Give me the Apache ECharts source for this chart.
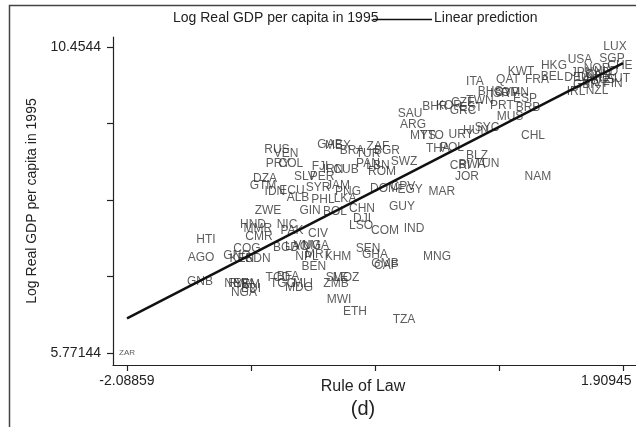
<!DOCTYPE html>
<html>
<head>
<meta charset="utf-8">
<script src="https://cdn.jsdelivr.net/npm/echarts@6/dist/echarts.min.js"></script>
<style>html,body{margin:0;padding:0;background:#fff}#c{width:636px;height:427px}</style>
</head>
<body>
<div id="c"></div>
<script>
// ---- data ----
const countries = ["LUX","USA","SGP","CHE","HKG","KWT","QAT","FRA","BEL","ITA","JPN","NOR","DEU","NZL","IRL","FIN","AUT","GBR","CAN","NLD","DNK","AUS","SWE",
 "BHS","ISR","CYP","OMN","ESP","PRT","BRB","MUS","CHL","SYC","HUN","URY","BHR","KOR","CZE","TWN","GRC","EST","SAU","ARG","MYS","TTO","THA","POL","BLZ","CRI","BWA","TUN","JOR","NAM",
 "ZAF","BGR","TUR","BRA","SWZ","PAN","LBN","ROM","DOM","CPV","EGY","MAR","CHN","GUY","DJI","LSO","COM","IND","SEN","GHA","GMB","CAF","MNG","MOZ","SLE","ZMB","MWI","ETH","TZA",
 "RUS","VEN","PRY","COL","GAB","MEX","FJI","IRN","CUB","SLV","PER","SYR","JAM","PNG","LKA","PHL","GIN","BOL","DZA","GTM","IDN","ECU","ALB","ZWE","HND","MMR","CMR","NIC","PAK","CIV",
 "HTI","AGO","COG","GNQ","KEN","SDN","BGD","LAO","VNM","UGA","NPL","MRT","KHM","BEN","TCD","BFA","TGO","MLI","MDG","GNB","NER","RWA","YEM","BDI","NGA","ZAR"];
const ruleOfLaw = [1.845,1.563,1.821,1.885,1.353,1.087,0.982,1.216,1.337,0.716,1.579,1.700,1.539,1.700,1.531,1.829,1.869,1.611,1.708,1.773,1.644,1.748,1.692,
 0.838,0.918,0.975,1.039,1.120,0.934,1.144,0.999,1.184,0.813,0.725,0.604,0.394,0.507,0.620,0.757,0.620,0.684,0.193,0.217,0.297,0.370,0.418,0.531,0.733,0.596,0.692,0.813,0.652,1.224,
 -0.066,0.007,-0.146,-0.275,0.144,-0.146,-0.066,-0.033,-0.017,0.136,0.193,0.450,-0.194,0.128,-0.194,-0.202,-0.009,0.225,-0.146,-0.090,-0.009,0.000,0.410,-0.323,-0.396,-0.404,-0.380,-0.251,0.144,
 -0.880,-0.807,-0.872,-0.767,-0.452,-0.388,-0.533,-0.428,-0.323,-0.654,-0.517,-0.549,-0.388,-0.307,-0.331,-0.509,-0.613,-0.412,-0.976,-0.992,-0.896,-0.759,-0.710,-0.952,-1.073,-1.033,-1.025,-0.799,-0.759,-0.549,
 -1.452,-1.492,-1.122,-1.202,-1.162,-1.033,-0.807,-0.718,-0.638,-0.565,-0.638,-0.549,-0.388,-0.582,-0.872,-0.791,-0.831,-0.670,-0.702,-1.500,-1.202,-1.162,-1.122,-1.089,-1.146,-2.08859];
const logGdp = [10.4544,10.255,10.271,10.164,10.164,10.072,9.949,9.949,9.995,9.919,10.056,10.118,9.980,9.781,9.766,9.888,9.965,9.873,10.026,10.072,9.980,9.949,9.919,
 9.766,9.735,9.750,9.750,9.659,9.551,9.521,9.383,9.092,9.215,9.169,9.108,9.536,9.551,9.597,9.628,9.475,9.521,9.429,9.261,9.092,9.092,8.893,8.909,8.786,8.633,8.648,8.664,8.465,8.465,
 8.924,8.863,8.817,8.863,8.694,8.664,8.633,8.541,8.281,8.312,8.266,8.235,7.975,8.006,7.822,7.715,7.639,7.669,7.363,7.271,7.133,7.103,7.240,6.919,6.919,6.828,6.583,6.400,6.277,
 8.878,8.817,8.664,8.664,8.955,8.939,8.618,8.572,8.572,8.465,8.465,8.296,8.327,8.235,8.128,8.113,7.945,7.929,8.434,8.327,8.235,8.251,8.143,7.945,7.730,7.669,7.547,7.730,7.639,7.593,
 7.501,7.225,7.363,7.256,7.210,7.210,7.379,7.394,7.409,7.409,7.240,7.271,7.240,7.088,6.919,6.935,6.828,6.828,6.767,6.858,6.828,6.828,6.813,6.751,6.690,5.77144];
// linear prediction endpoints
const fitX = [-2.08859, 1.90945];
const fitY = [6.30, 10.209];
// axis ticks / labels
const xTicks = [-2.08859, -1.08908, -0.08957, 0.90994, 1.90945];
const xTickLabels = ["-2.08859", "1.90945"];
const yTicks = [5.77144, 6.94218, 8.11292, 9.28366, 10.4544];
const yTickLabels = ["5.77144", "10.4544"];
const xTitle = "Rule of Law";
const yTitle = "Log Real GDP per capita in 1995";
const legendNames = ["Log Real GDP per capita in 1995", "Linear prediction"];
const panelTag = "(d)";

const FONT = "'Liberation Sans', Arial, sans-serif";
const chart = echarts.init(document.getElementById('c'), null, {renderer: 'canvas'});

const points = countries.map((c, i) => {
  const p = {name: c, value: [ruleOfLaw[i], logGdp[i]]};
  if (c === 'ZAR') p.label = {fontSize: 8};
  return p;
});
const fitData = fitX.map((x, i) => [x, fitY[i]]);

chart.setOption({
  animation: false,
  backgroundColor: '#fff',
  grid: {left: 113, right: 0, top: 37, bottom: 62},
  xAxis: {
    type: 'value', min: -2.2014, max: 2.0143,
    axisLine: {show: true, onZero: false, lineStyle: {color: '#222', width: 1.2}},
    axisTick: {show: true, inside: false, length: 6, customValues: xTicks, lineStyle: {color: '#222', width: 1.2}},
    axisLabel: {
      show: true, margin: 9, fontSize: 14, color: '#222', fontFamily: FONT,
      customValues: [xTicks[0], xTicks[4]],
      formatter: v => v > 0 ? '{r|' + xTickLabels[1] + '}' : xTickLabels[0],
      rich: {r: {width: 84, align: 'left', fontSize: 14, color: '#222', fontFamily: FONT}}
    },
    splitLine: {show: false}
  },
  yAxis: {
    type: 'value', min: 5.5878, max: 10.6074,
    name: yTitle, nameLocation: 'middle', nameGap: 72,
    nameTextStyle: {fontSize: 14, color: '#222', fontFamily: FONT},
    axisLine: {show: true, onZero: false, lineStyle: {color: '#222', width: 1.2}},
    axisTick: {show: true, inside: false, length: 6, customValues: yTicks, lineStyle: {color: '#222', width: 1.2}},
    axisLabel: {
      show: true, margin: 12, fontSize: 14, color: '#222', fontFamily: FONT,
      customValues: [yTicks[0], yTicks[4]],
      formatter: v => v > 8 ? yTickLabels[1] : yTickLabels[0]
    },
    splitLine: {show: false}
  },
  graphic: [
    {type: 'rect', silent: true, z: 100, shape: {x: 9.5, y: 5.5, width: 700, height: 500},
     style: {fill: 'none', stroke: '#444', lineWidth: 1.5}},
    {type: 'text', left: 173, top: 11, style: {text: legendNames[0], font: '14px ' + FONT, fill: '#222'}},
    {type: 'line', shape: {x1: 373, y1: 19.5, x2: 432, y2: 19.5}, style: {stroke: '#111', lineWidth: 1.5}},
    {type: 'text', left: 434, top: 11, style: {text: legendNames[1], font: '14px ' + FONT, fill: '#222'}},
    {type: 'text', x: 363, y: 387, style: {text: xTitle, font: '16px ' + FONT, fill: '#222', align: 'center', verticalAlign: 'middle'}},
    {type: 'text', x: 363, y: 409, style: {text: panelTag, font: '20px ' + FONT, fill: '#222', align: 'center', verticalAlign: 'middle'}}
  ],
  series: [
    {
      name: legendNames[0], type: 'scatter', data: points, symbolSize: 1,
      itemStyle: {color: 'rgba(0,0,0,0)'},
      label: {show: true, position: 'inside', formatter: p => p.name, fontSize: 12, color: '#333', fontFamily: FONT},
      emphasis: {disabled: true}, z: 2
    },
    {
      name: legendNames[1], type: 'line', data: fitData, symbol: 'none',
      lineStyle: {color: '#111', width: 2.5}, z: 3
    }
  ]
});
</script>
</body>
</html>
